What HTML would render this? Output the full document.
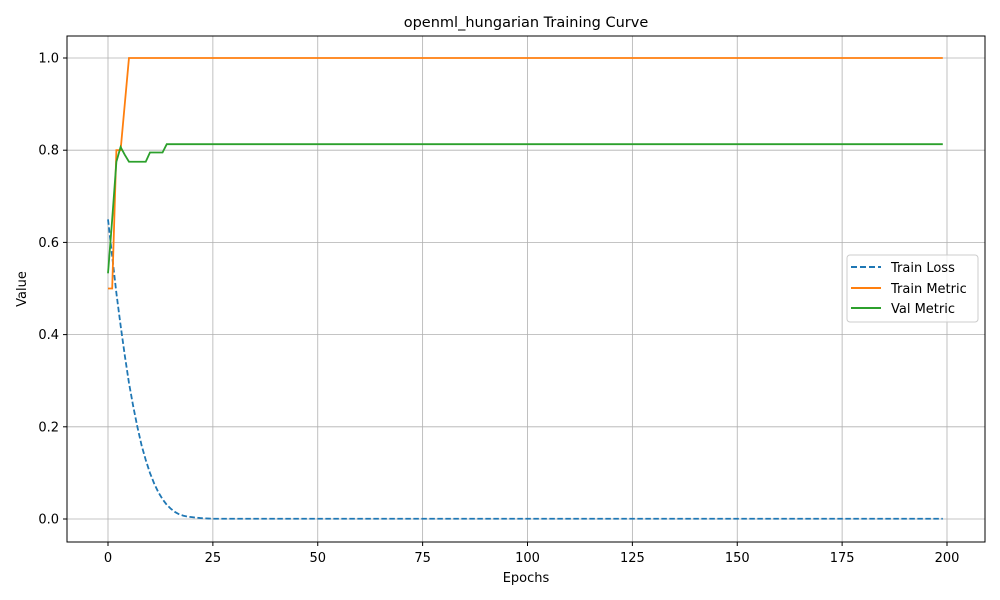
<!DOCTYPE html>
<html><head><meta charset="utf-8">
<style>
body{margin:0;background:#fff;}
svg{display:block;font-family:"DejaVu Sans","Liberation Sans",sans-serif;}
</style></head>
<body>
<svg id="chart" width="1000" height="600" viewBox="0 0 1000 600">
<rect x="0" y="0" width="1000" height="600" fill="#fff"/>
<text x="526" y="27" text-anchor="middle" font-size="14.5">openml_hungarian Training Curve</text>
<g id="grid"></g>
<g id="series"></g>
<rect x="67" y="36" width="918" height="506" fill="none" stroke="#000" stroke-width="1"/>
<g id="ticks"></g>
<text x="526" y="582" text-anchor="middle" font-size="13">Epochs</text>
<text x="26" y="289" text-anchor="middle" font-size="13" transform="rotate(-90 26 289)">Value</text>
<g>
<rect x="847" y="255" width="131" height="67" rx="3" fill="#fff" fill-opacity="0.8" stroke="#ccc"/>
<line x1="851" y1="267" x2="881" y2="267" stroke="#1f77b4" stroke-width="2" stroke-dasharray="6,3"/>
<text x="891" y="272" font-size="13">Train Loss</text>
<line x1="851" y1="288" x2="881" y2="288" stroke="#ff7f0e" stroke-width="2"/>
<text x="891" y="293" font-size="13">Train Metric</text>
<line x1="851" y1="308" x2="881" y2="308" stroke="#2ca02c" stroke-width="2"/>
<text x="891" y="313" font-size="13">Val Metric</text>
</g>
</svg>
<script>
const xTicks=[0,25,50,75,100,125,150,175,200];
const yTicks=[0.0,0.2,0.4,0.6,0.8,1.0];
const yTickLabels=["0.0","0.2","0.4","0.6","0.8","1.0"];
const trainLossHead=[0.65,0.57,0.49,0.42,0.355,0.295,0.245,0.2,0.16,0.128,0.1,0.077,0.058,0.043,0.031,0.022,0.015,0.01,0.007,0.005,0.004,0.003,0.002,0.0015,0.001];
const trainLossTail=0.0005;
const trainMetricHead=[0.5,0.5,0.8,0.8,0.9];
const trainMetricTail=1.0;
const valMetricHead=[0.533,0.65,0.775,0.807,0.79,0.775,0.775,0.775,0.775,0.775,0.795,0.795,0.795,0.795];
const valMetricTail=0.813;
const nEpochs=200;

function fill(head,tail){const a=head.slice();while(a.length<nEpochs)a.push(tail);return a;}
const trainLoss=fill(trainLossHead,trainLossTail);
const trainMetric=fill(trainMetricHead,trainMetricTail);
const valMetric=fill(valMetricHead,valMetricTail);

const X0=108,X1=947,Y0=519,Y1=58;
const sx=v=>X0+(X1-X0)*v/200;
const sy=v=>Y0+(Y1-Y0)*v/1.0;
const NS="http://www.w3.org/2000/svg";
const grid=document.getElementById('grid'),ticks=document.getElementById('ticks'),series=document.getElementById('series');
function mk(tag,attrs,parent){const e=document.createElementNS(NS,tag);for(const k in attrs)e.setAttribute(k,attrs[k]);parent.appendChild(e);return e;}
xTicks.forEach(t=>{
  const x=sx(t);
  const g=mk('line',{x1:x,x2:x,y1:36,y2:542,stroke:'#b0b0b0','stroke-width':0.8},grid);
  
  
  const tk=mk('line',{x1:x,x2:x,y1:542,y2:546,stroke:'#000'},ticks);
  
  
  const lb=mk('text',{x:x,y:562,'text-anchor':'middle','font-size':13},ticks);
  lb.textContent=String(t);
  
  
});
yTicks.forEach((t,i)=>{
  const y=sy(t);
  const g=mk('line',{x1:67,x2:985,y1:y,y2:y,stroke:'#b0b0b0','stroke-width':0.8},grid);
  
  
  const tk=mk('line',{x1:63,x2:67,y1:y,y2:y,stroke:'#000'},ticks);
  
  
  const lb=mk('text',{x:59,y:y+4.5,'text-anchor':'end','font-size':13},ticks);
  lb.textContent=yTickLabels[i];
  
  
});
function line(data,color,dash,name){
  const d=data.map((v,i)=>(i?'L':'M')+sx(i).toFixed(2)+','+sy(v).toFixed(2)).join('');
  const p=mk('path',{d:d,fill:'none',stroke:color,'stroke-width':1.8},series);
  if(dash)p.setAttribute('stroke-dasharray',dash);
  
  
}
line(trainLoss,'#1f77b4','5.5,2.5','train-loss-line');
line(trainMetric,'#ff7f0e',null,'train-metric-line');
line(valMetric,'#2ca02c',null,'val-metric-line');
</script>
</body></html>
